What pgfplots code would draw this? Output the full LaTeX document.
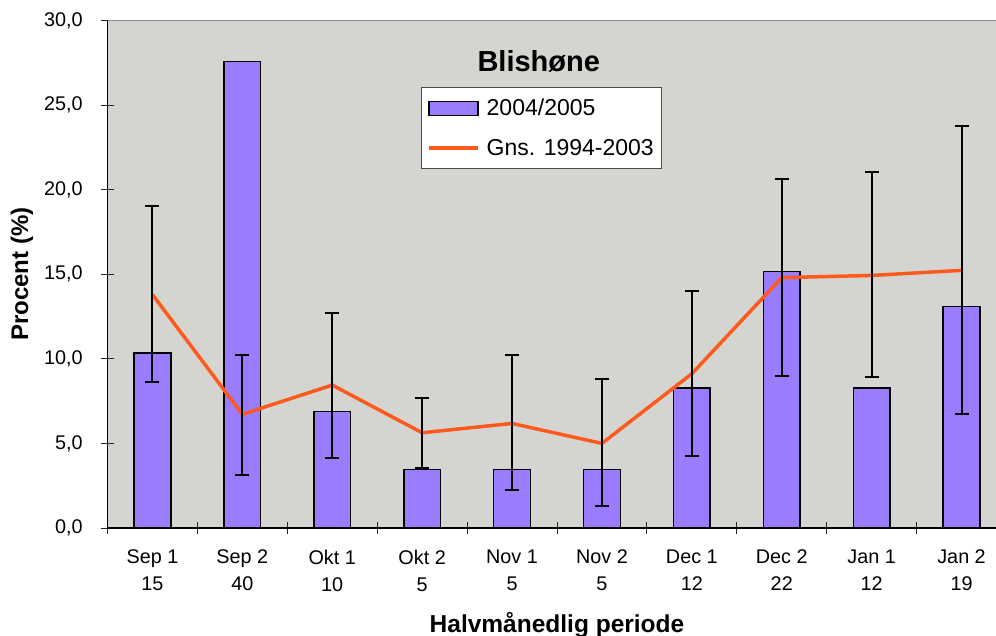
\documentclass[border=0pt]{standalone}
\usepackage{pgfplots}
\pgfplotsset{compat=1.18}
\usepackage{fontspec}
\setmainfont{Liberation Sans}
\usetikzlibrary{calc}
\definecolor{bgc}{RGB}{212,213,208}
\definecolor{barc}{RGB}{155,124,255}
\definecolor{linec}{RGB}{255,90,30}
\pgfplotsset{
  barlegend/.style={legend image code/.code={\draw[##1] (0bp,-7bp) rectangle (49bp,7bp);}},
  linelegend/.style={legend image code/.code={\draw[##1] (0bp,0bp) -- (49bp,0bp);}},
}
\begin{document}
\begin{tikzpicture}
\begin{axis}[
  name=ax,
  scale only axis,
  width=899bp, height=507.5bp,
  xmin=-0.5, xmax=9.5, ymin=0, ymax=30,
  axis lines=left,
  axis line style={-, black, line width=1.5bp},
  axis background/.style={fill=bgc},
  ytick={0,5,10,15,20,25,30},
  xtick={0,1,2,3,4,5,6,7,8,9},
  xticklabels={{Sep 1\\15},{Sep 2\\40},{Okt 1\\10},{Okt 2\\5},{Nov 1\\5},{Nov 2\\5},{Dec 1\\12},{Dec 2\\22},{Jan 1\\12},{Jan 2\\19}},
  minor xtick={-0.5,0.5,1.5,2.5,3.5,4.5,5.5,6.5,7.5,8.5,9.5},
  tick align=center,
  major tick length=12.6bp,
  minor tick length=11.7bp,
  tick style={black!85, line width=1bp},
  major x tick style={draw=none},
  /pgf/number format/assume math mode=true,
  xticklabel style={align=center, yshift=-12bp, font=\fontsize{19.8bp}{27bp}\selectfont},
  yticklabel style={xshift=-15bp, font=\fontsize{19.8bp}{23bp}\selectfont, /pgf/number format/.cd, fixed, fixed zerofill, precision=1, use comma},
  ylabel={Procent (\%)},
  ylabel style={font=\bfseries\fontsize{24bp}{28bp}\selectfont, at={(axis description cs:-0.0951,0.5)}, anchor=center},
  xlabel={Halvmånedlig periode},
  xlabel style={font=\bfseries\fontsize{24.5bp}{28bp}\selectfont, at={(axis description cs:0.5,-0.205)}, anchor=base},
  legend style={at={(0.3484,0.8696)}, anchor=north west, draw=black!70, line width=1bp, fill=white,
    font=\fontsize{23bp}{27bp}\selectfont, row sep=18bp, inner xsep=6bp, inner ysep=10bp, cells={anchor=west},
    /tikz/every odd column/.append style={column sep=5bp}},
]
\addplot[ybar, bar width=36.7bp, fill=barc, draw=black, line width=1.5bp, barlegend]
  table {
x y
0 10.34
1 27.59
2 6.90
3 3.45
4 3.45
5 3.45
6 8.28
7 15.17
8 8.28
9 13.10
};
\addlegendentry{2004/2005}
\addplot[linec, line width=3.5bp, mark=none, linelegend,
  error bars/.cd, y dir=both, y explicit, error mark=|,
  error bar style={black, line width=2bp},
  error mark options={black, line width=2bp, mark size=7bp}]
  table[x=x, y=y, y error plus=ep, y error minus=em] {
x y ep em
0 13.80 5.25 5.19
1 6.72 3.48 3.59
2 8.45 4.26 4.34
3 5.63 2.07 2.08
4 6.18 4.02 3.92
5 5.00 3.81 3.72
6 9.12 4.90 4.89
7 14.80 5.84 5.80
8 14.93 6.09 6.03
9 15.23 8.56 8.49
};
\addlegendentry{Gns. 1994-2003}
\node[font=\bfseries\fontsize{29bp}{34bp}\selectfont] at (rel axis cs:0.4797,0.9188) {Blishøne};
\end{axis}
\draw[line width=1.2bp, black!45] (ax.north west) -- (ax.north east);
\pgfresetboundingbox
\path[use as bounding box] ($(ax.south west)+(-107.5bp,-108bp)$) rectangle ($(ax.north west)+(888.5bp,20.5bp)$);
\end{tikzpicture}
\end{document}
